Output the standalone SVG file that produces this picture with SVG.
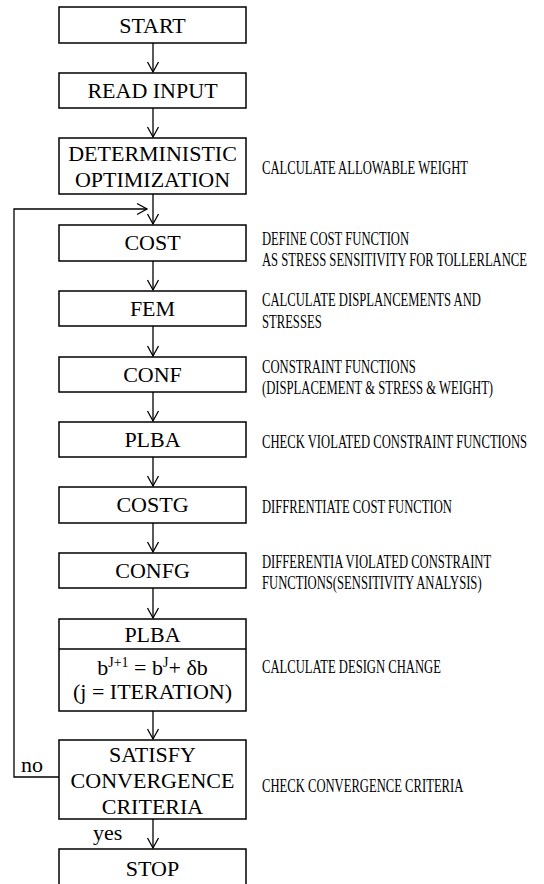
<svg xmlns="http://www.w3.org/2000/svg" width="544" height="884" viewBox="0 0 544 884">
<style>
.box{fill:#fff;stroke:#000;stroke-width:1.5}
.lbl{font-family:'Liberation Serif','DejaVu Serif',serif;font-size:22px;fill:#000;text-anchor:middle}
.sm{font-family:'Liberation Serif','DejaVu Serif',serif;font-size:22px;fill:#000}
.note{font-family:'Liberation Serif','DejaVu Serif',serif;font-size:19px;fill:#000}
.con{fill:none;stroke:#000;stroke-width:1.3}
</style>
<defs>
<marker id="arr" viewBox="-12 -7 14 14" refX="0" refY="0" markerWidth="14" markerHeight="14" markerUnits="userSpaceOnUse" orient="auto">
<path d="M-10,-5.5 L0,0 L-10,5.5" fill="none" stroke="#000" stroke-width="1.3"/>
</marker>
</defs>
<rect width="544" height="884" fill="#fff"/>
<g id="connectors">
<line class="con" x1="153" y1="43" x2="153" y2="72" marker-end="url(#arr)"/>
<line class="con" x1="153" y1="108" x2="153" y2="137" marker-end="url(#arr)"/>
<line class="con" x1="153" y1="194" x2="153" y2="224" marker-end="url(#arr)"/>
<line class="con" x1="153" y1="261" x2="153" y2="290" marker-end="url(#arr)"/>
<line class="con" x1="153" y1="326" x2="153" y2="356" marker-end="url(#arr)"/>
<line class="con" x1="153" y1="392" x2="153" y2="421" marker-end="url(#arr)"/>
<line class="con" x1="153" y1="457" x2="153" y2="486" marker-end="url(#arr)"/>
<line class="con" x1="153" y1="523" x2="153" y2="552" marker-end="url(#arr)"/>
<line class="con" x1="153" y1="588" x2="153" y2="618" marker-end="url(#arr)"/>
<line class="con" x1="153" y1="711" x2="153" y2="739" marker-end="url(#arr)"/>
<line class="con" x1="153" y1="819" x2="153" y2="848" marker-end="url(#arr)"/>
<polyline class="con" points="59,777 14,777 14,209 147,209" marker-end="url(#arr)"/>
<text class="sm" x="21" y="772">no</text>
<text class="sm" x="93" y="840">yes</text>
</g>
<g id="start"><rect class="box" x="59" y="7" width="187" height="36"/><text class="lbl" x="152.5" y="33">START</text></g>
<g id="read-input"><rect class="box" x="59" y="73" width="187" height="35"/><text class="lbl" x="152.5" y="98">READ INPUT</text></g>
<g id="deterministic"><rect class="box" x="59" y="138" width="187" height="56"/><text class="lbl" x="152.5" y="161">DETERMINISTIC</text><text class="lbl" x="152.5" y="187">OPTIMIZATION</text>
<text class="note" transform="translate(262,174) scale(0.665,1)">CALCULATE ALLOWABLE WEIGHT</text></g>
<g id="cost"><rect class="box" x="59" y="225" width="187" height="36"/><text class="lbl" x="152.5" y="250">COST</text>
<text class="note" transform="translate(262,245) scale(0.665,1)">DEFINE COST FUNCTION</text>
<text class="note" transform="translate(262,266) scale(0.665,1)">AS STRESS SENSITIVITY FOR TOLLERLANCE</text></g>
<g id="fem"><rect class="box" x="59" y="291" width="187" height="35"/><text class="lbl" x="152.5" y="316">FEM</text>
<text class="note" transform="translate(262,306) scale(0.665,1)">CALCULATE DISPLANCEMENTS AND</text>
<text class="note" transform="translate(262,328) scale(0.665,1)">STRESSES</text></g>
<g id="conf"><rect class="box" x="59" y="357" width="187" height="35"/><text class="lbl" x="152.5" y="382">CONF</text>
<text class="note" transform="translate(262,373) scale(0.665,1)">CONSTRAINT FUNCTIONS</text>
<text class="note" transform="translate(262,394) scale(0.665,1)">(DISPLACEMENT &amp; STRESS &amp; WEIGHT)</text></g>
<g id="plba"><rect class="box" x="59" y="422" width="187" height="35"/><text class="lbl" x="152.5" y="447">PLBA</text>
<text class="note" transform="translate(262,448) scale(0.665,1)">CHECK VIOLATED CONSTRAINT FUNCTIONS</text></g>
<g id="costg"><rect class="box" x="59" y="487" width="187" height="36"/><text class="lbl" x="152.5" y="512">COSTG</text>
<text class="note" transform="translate(262,513) scale(0.665,1)">DIFFRENTIATE COST FUNCTION</text></g>
<g id="confg"><rect class="box" x="59" y="553" width="187" height="35"/><text class="lbl" x="152.5" y="578">CONFG</text>
<text class="note" transform="translate(262,568) scale(0.665,1)">DIFFERENTIA VIOLATED CONSTRAINT</text>
<text class="note" transform="translate(262,589) scale(0.665,1)">FUNCTIONS(SENSITIVITY ANALYSIS)</text></g>
<g id="plba-update"><rect class="box" x="59" y="619" width="187" height="92"/><line class="box" x1="59" y1="649" x2="246" y2="649"/>
<text class="lbl" x="152.5" y="642">PLBA</text>
<text class="lbl" x="152.5" y="675">b<tspan font-size="14" dy="-8">J+1</tspan><tspan dy="8"> = b</tspan><tspan font-size="14" dy="-8">J</tspan><tspan dy="8">+ δb</tspan></text>
<text class="lbl" x="152.5" y="699">(j = ITERATION)</text>
<text class="note" transform="translate(262,673) scale(0.665,1)">CALCULATE DESIGN CHANGE</text></g>
<g id="convergence"><rect class="box" x="59" y="740" width="187" height="79"/><text class="lbl" x="152.5" y="762">SATISFY</text><text class="lbl" x="152.5" y="788">CONVERGENCE</text><text class="lbl" x="152.5" y="814">CRITERIA</text>
<text class="note" transform="translate(262,792) scale(0.665,1)">CHECK CONVERGENCE CRITERIA</text></g>
<g id="stop"><rect class="box" x="59" y="849" width="187" height="45"/><text class="lbl" x="152.5" y="876">STOP</text></g>
</svg>
